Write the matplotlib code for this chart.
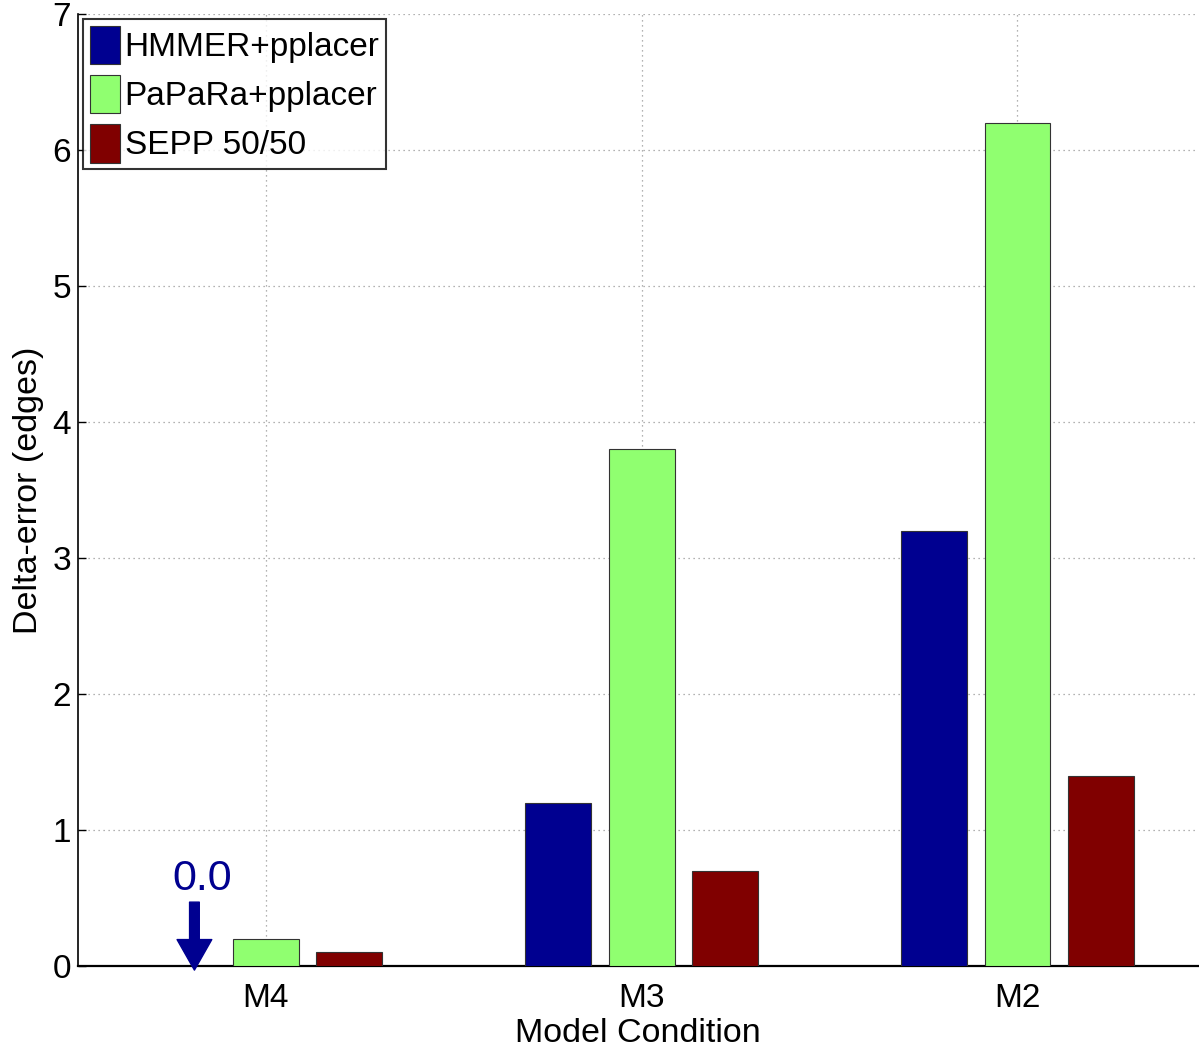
import matplotlib
matplotlib.use("Agg")
import matplotlib.pyplot as plt
import numpy as np

plt.rcParams['font.family'] = ['Liberation Sans', 'DejaVu Sans']

categories = ["M4", "M3", "M2"]
series_names = ["HMMER+pplacer", "PaPaRa+pplacer", "SEPP 50/50"]
hmmer = [0.0, 1.2, 3.2]
papara = [0.2, 3.8, 6.2]
sepp = [0.1, 0.7, 1.4]
colors = ["#000090", "#90FF70", "#800000"]
yticks = [0, 1, 2, 3, 4, 5, 6, 7]

fig = plt.figure(figsize=(11.99, 10.48), dpi=100)
ax = fig.add_axes([0.065, 0.0782, 0.934, 0.9084])

x = np.arange(1, len(categories) + 1)
offset = 0.222
width = 0.175
for i, (vals, name, c) in enumerate(zip([hmmer, papara, sepp], series_names, colors)):
    ax.bar(x + (i - 1) * offset, vals, width, color=c, edgecolor="#333333",
           linewidth=0.8, label=name, zorder=3)

ax.set_xlim(0.5, 3.48)
ax.set_ylim(0, 7)
ax.set_xticks(x)
ax.set_xticklabels(categories)
ax.set_yticks(yticks)
ax.tick_params(axis='both', labelsize=24, direction='in', length=6, width=1)
ax.tick_params(axis='x', length=0, pad=12)
ax.tick_params(axis='y', pad=5)
ax.grid(True, linestyle=(0, (1, 3)), color="#999999", linewidth=0.9, zorder=0)
ax.set_axisbelow(True)
for s in ["top", "right"]:
    ax.spines[s].set_visible(False)
ax.spines['left'].set_linewidth(1.2)
ax.spines['bottom'].set_linewidth(1.6)

ax.set_xlabel("Model Condition", fontsize=24.5, labelpad=3)
ax.set_ylabel("Delta-error (edges)", fontsize=24.5, labelpad=6)

# annotation for zero value
ax.annotate("", xy=(0.81, -0.03), xytext=(0.81, 0.47),
            arrowprops=dict(facecolor="#000090", edgecolor="#000090",
                            width=7, headwidth=25, headlength=22),
            annotation_clip=False, zorder=4)
ax.text(0.83, 0.49, "0.0", color="#000090", fontsize=31, ha="center", va="bottom")

leg = ax.legend(loc="upper left", fontsize=24, frameon=True, fancybox=False,
                edgecolor="black", borderpad=0.2, handlelength=0.9,
                handleheight=1.4, handletextpad=0.15, labelspacing=0.32,
                borderaxespad=0.15)
leg.get_frame().set_linewidth(1.5)

fig.savefig("out.png", dpi=100)
